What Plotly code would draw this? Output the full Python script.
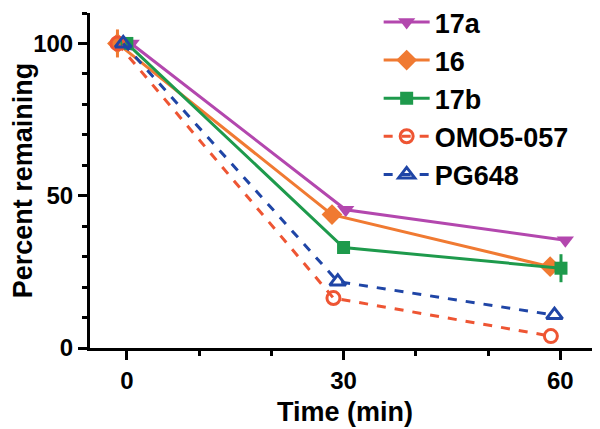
import plotly.graph_objects as go

series_names = ["17a", "16", "17b", "OMO5-057", "PG648"]
x_17a = [0.6, 30.3, 60.7]
y_17a = [100, 45.4, 35.4]
x_16 = [-1.3, 28.4, 58.6]
y_16 = [100, 43.8, 26.7]
err_16 = [4.6, 0, 0]
x_17b = [0.0, 30.0, 60.1]
y_17b = [100, 33.0, 26.2]
err_17b = [0, 0, 4.6]
x_omo = [-1.3, 28.6, 58.7]
y_omo = [100, 16.4, 3.9]
x_pg = [-0.5, 29.2, 59.2]
y_pg = [100, 21.8, 10.8]

x_ticks = [0, 30, 60]
y_ticks = [0, 50, 100]

c_17a = "#B347AE"
c_16 = "#F07A32"
c_17b = "#1E9A4C"
c_omo = "#EE5533"
c_pg = "#1F45A6"

FONT = "Liberation Sans, Arial, sans-serif"

fig = go.Figure()
fig.add_trace(go.Scatter(x=x_17a, y=y_17a, name=series_names[0], mode="lines+markers",
                         line=dict(color=c_17a, width=3),
                         marker=dict(symbol="triangle-down", size=15, color=c_17a)))
fig.add_trace(go.Scatter(x=x_16, y=y_16, name=series_names[1], mode="lines+markers",
                         line=dict(color=c_16, width=3),
                         marker=dict(symbol="diamond", size=16, color=c_16),
                         error_y=dict(type="data", array=err_16, color=c_16, thickness=3, width=0)))
fig.add_trace(go.Scatter(x=x_17b, y=y_17b, name=series_names[2], mode="lines+markers",
                         line=dict(color=c_17b, width=3),
                         marker=dict(symbol="square", size=13, color=c_17b),
                         error_y=dict(type="data", array=err_17b, color=c_17b, thickness=3, width=0)))
fig.add_trace(go.Scatter(x=x_omo, y=y_omo, name=series_names[3], mode="lines+markers",
                         line=dict(color=c_omo, width=3, dash="dash"),
                         marker=dict(symbol="circle-open", size=13, color=c_omo, line=dict(width=3))))
fig.add_trace(go.Scatter(x=x_pg, y=y_pg, name=series_names[4], mode="lines+markers",
                         line=dict(color=c_pg, width=3, dash="dash"),
                         marker=dict(symbol="triangle-up-open", size=14, color=c_pg, line=dict(width=3))))

fig.update_layout(
    width=592, height=421,
    margin=dict(l=82, r=0, t=5, b=81, autoexpand=False),
    paper_bgcolor="white", plot_bgcolor="white",
    font=dict(family=FONT, size=24, color="black", weight="bold"),
    xaxis=dict(range=[-5.1, 65.5], tickvals=x_ticks, ticktext=[str(v) for v in x_ticks],
               showgrid=False, zeroline=False, showline=True, linecolor="black", linewidth=3,
               ticks="outside", ticklen=9, tickwidth=3, tickcolor="black",
               minor=dict(dtick=10, tick0=0, ticks="outside", ticklen=5, tickwidth=3, tickcolor="black"),
               tickfont=dict(family=FONT, size=24, weight="bold"),
               title=dict(text="Time (min)", font=dict(family=FONT, size=27, weight="bold"), standoff=10)),
    yaxis=dict(range=[0, 110], tickvals=y_ticks, ticktext=[str(v) for v in y_ticks],
               showgrid=False, zeroline=False, showline=True, linecolor="black", linewidth=3,
               ticks="outside", ticklen=9, tickwidth=3, tickcolor="black",
               minor=dict(dtick=10, tick0=0, ticks="outside", ticklen=5, tickwidth=3, tickcolor="black"),
               tickfont=dict(family=FONT, size=24, weight="bold"),
               title=dict(text="Percent remaining", font=dict(family=FONT, size=27, weight="bold"), standoff=4)),
    legend=dict(x=0.566, y=1.045, xanchor="left", yanchor="top",
                font=dict(family=FONT, size=27, weight="bold"),
                bgcolor="rgba(255,255,255,0)", itemwidth=46),
    showlegend=True,
)

fig.write_html("out.html")
